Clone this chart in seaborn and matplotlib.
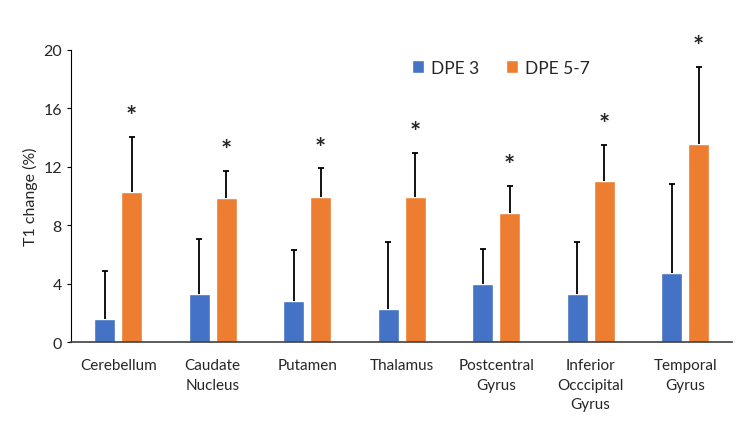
import matplotlib
matplotlib.use("Agg")
import pandas as pd
import seaborn as sns
from matplotlib import pyplot as plt

regions = ["Cerebellum", "Caudate\nNucleus", "Putamen", "Thalamus", "Postcentral\nGyrus",
           "Inferior\nOcccipital\nGyrus", "Temporal\nGyrus"]
groups = ["DPE 3", "DPE 5-7"]
dpe3_mean = [1.55, 3.32, 2.81, 2.23, 4.0, 3.29, 4.75]
dpe3_sd = [3.33, 3.71, 3.49, 4.65, 2.4, 3.59, 6.05]
dpe57_mean = [10.25, 9.84, 9.9, 9.95, 8.86, 11.05, 13.58]
dpe57_sd = [3.82, 1.9, 2.0, 3.02, 1.85, 2.46, 5.28]
significant = [True, True, True, True, True, True, True]

colors = ["#4472C4", "#ED7D31"]

sns.set_style("white")
plt.rcParams["font.family"] = ["Lato", "DejaVu Sans"]

df = pd.DataFrame({
    "region": regions * 2,
    "group": [groups[0]] * len(regions) + [groups[1]] * len(regions),
    "value": dpe3_mean + dpe57_mean,
})

fig = plt.figure(figsize=(7.44, 4.31), dpi=100)
ax = fig.add_axes([0.0954, 0.204, 0.889, 0.678])
sns.barplot(df, x="region", y="value", hue="group", palette=colors, width=0.57, gap=0.22,
            errorbar=None, ax=ax, saturation=1)

# upper error bars only
for cont, sds in zip(ax.containers, [dpe3_sd, dpe57_sd]):
    xs = [p.get_x() + p.get_width() / 2 for p in cont.patches]
    ys = [p.get_height() for p in cont.patches]
    _, caps, _ = ax.errorbar(xs, ys, yerr=[[0] * len(sds), sds], fmt="none", ecolor="black",
                             elinewidth=1.3, capsize=2.5, capthick=1.3)
    caps[0].set_visible(False)

# significance markers
for p, sd, sig in zip(ax.containers[1].patches, dpe57_sd, significant):
    if sig:
        ax.annotate("*", (p.get_x() + p.get_width() / 2, p.get_height() + sd),
                    xytext=(0, 6), textcoords="offset points", ha="center", va="bottom",
                    fontsize=19, fontweight="bold")

ax.set_ylim(0, 20)
ax.set_yticks(range(0, 21, 4))
ax.set_xlim(-0.5, len(regions) - 0.5)
ax.set_xlabel("")
ax.set_ylabel("T1 change (%)", fontsize=11.5)
ax.tick_params(axis="y", labelsize=11.5, left=True, length=3, color="black")
ax.tick_params(axis="x", labelsize=11, bottom=False, pad=8)
for lbl in ax.get_xticklabels():
    lbl.set_verticalalignment("top")
    lbl.set_linespacing(1.5)
sns.despine(ax=ax)
ax.spines["left"].set_color("black")
ax.spines["bottom"].set_color("#404040")
ax.spines["bottom"].set_linewidth(1.2)

ax.legend(loc="upper center", bbox_to_anchor=(0.65, 1.02), ncol=2, frameon=False,
          fontsize=12.5, handlelength=0.7, handleheight=0.7, columnspacing=1.5, handletextpad=0.4)

fig.savefig("out.png", dpi=100)
